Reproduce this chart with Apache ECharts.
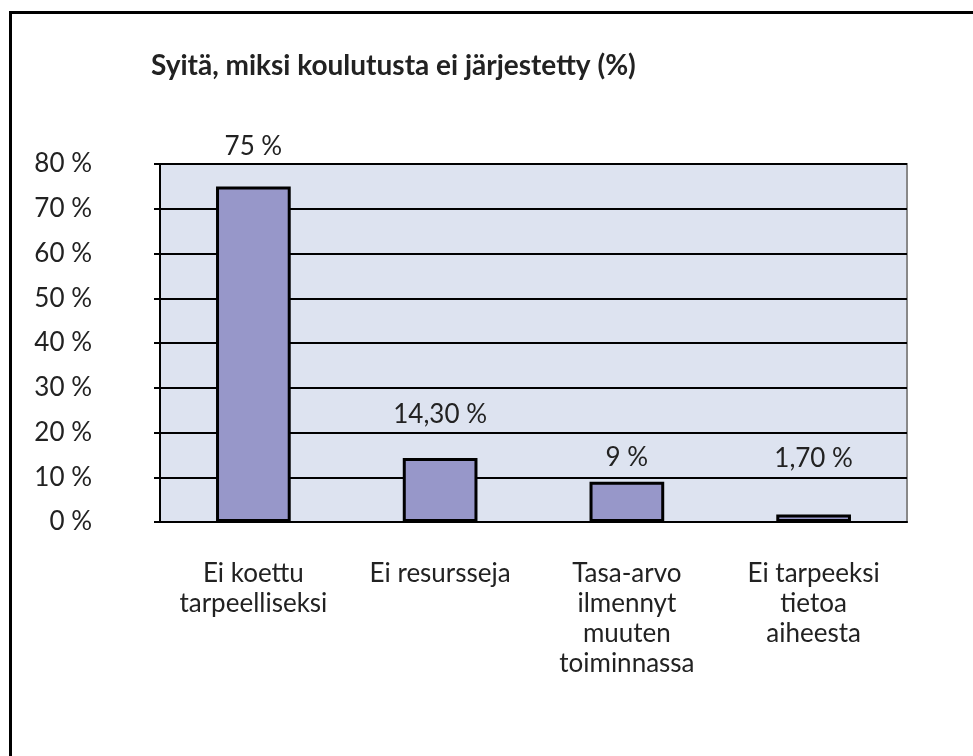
<!DOCTYPE html>
<html>
<head>
<meta charset="utf-8">
<script src="https://cdn.jsdelivr.net/npm/echarts@6/dist/echarts.min.js"></script>
<style>
html,body{margin:0;padding:0;background:#fff;}
#c{width:973px;height:756px;}
</style>
</head>
<body>
<div id="c"></div>
<script>
const titleText = 'Syitä, miksi koulutusta ei järjestetty (%)';
const categories = ['Ei koettu\ntarpeelliseksi', 'Ei resursseja', 'Tasa-arvo\nilmennyt\nmuuten\ntoiminnassa', 'Ei tarpeeksi\ntietoa\naiheesta'];
const values = [75, 14.3, 9, 1.7];
const valueLabels = ['75 %', '14,30 %', '9 %', '1,70 %'];
const yTicks = [0, 10, 20, 30, 40, 50, 60, 70, 80];

// label lift above each bar (styling, in px)
const labelLift = [27, 30, 11, 43];

const FONT = 'Lato, "Open Sans", sans-serif';
const chart = echarts.init(document.getElementById('c'), null, {renderer: 'canvas'});
chart.setOption({
  animation: false,
  backgroundColor: '#ffffff',
  title: {
    text: titleText,
    left: 146, top: 47,
    textStyle: {fontFamily: FONT, fontSize: 28, fontWeight: 'bold', color: '#222222'}
  },
  graphic: [{
    type: 'rect', left: 8, top: 10, z: 100, silent: true,
    shape: {width: 1100, height: 900},
    style: {fill: 'none', stroke: '#000', lineWidth: 3}
  }],
  grid: {
    left: 160, top: 164, right: 66, bottom: 234,
    show: true, backgroundColor: '#dde3f0', borderColor: '#888888', borderWidth: 2
  },
  xAxis: {
    type: 'category',
    data: categories,
    axisLine: {show: true, lineStyle: {color: '#000', width: 2}},
    axisTick: {show: false},
    axisLabel: {
      interval: 0, margin: 37,
      fontFamily: FONT, fontSize: 26, lineHeight: 30, color: '#222222', align: 'center'
    },
    splitLine: {show: false}
  },
  yAxis: {
    type: 'value',
    min: yTicks[0], max: yTicks[yTicks.length - 1], interval: yTicks[1] - yTicks[0],
    axisLine: {show: true, lineStyle: {color: '#000', width: 2}},
    axisTick: {show: true, inside: false, length: 6, lineStyle: {color: '#000', width: 2}},
    axisLabel: {
      formatter: v => v + ' %', margin: 68, align: 'right',
      fontFamily: FONT, fontSize: 26, color: '#222222'
    },
    splitLine: {show: true, lineStyle: {color: '#000', width: 2}}
  },
  series: [{
    type: 'bar',
    barWidth: '40%',
    data: values.map((v, i) => ({
      value: v,
      label: {distance: labelLift[i]}
    })),
    itemStyle: {color: '#9797c9', borderColor: '#000', borderWidth: 3},
    label: {
      show: true, position: 'top',
      formatter: p => valueLabels[p.dataIndex],
      fontFamily: FONT, fontSize: 26, color: '#222222'
    }
  }]
});
</script>
</body>
</html>
